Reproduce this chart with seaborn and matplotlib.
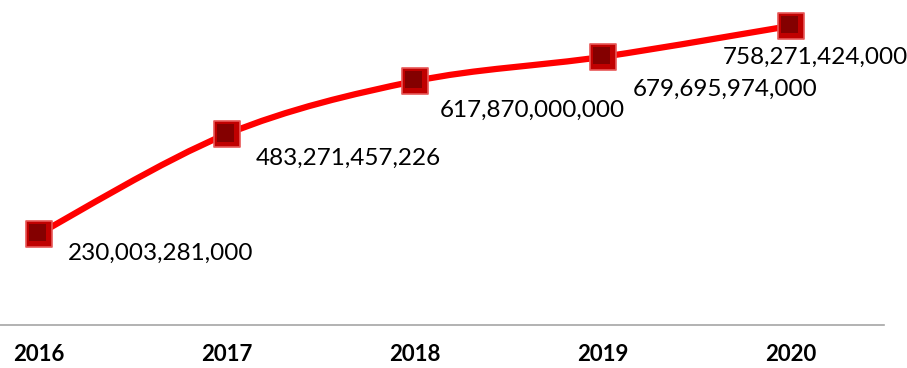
import numpy as np
import matplotlib
matplotlib.use('Agg')
import matplotlib.pyplot as plt
from matplotlib.path import Path
from matplotlib.patches import PathPatch
import seaborn as sns

# data
years = ['2016', '2017', '2018', '2019', '2020']
values = [230003281000, 483271457226, 617870000000, 679695974000, 758271424000]
labels = ['230,003,281,000', '483,271,457,226', '617,870,000,000',
          '679,695,974,000', '758,271,424,000']

# label offsets (points) from marker centre
label_offsets = [(21, -19), (21, -22), (18, -26), (22, -28), (-49, -27)]

sns.set_theme(style='white')
plt.rcParams['font.family'] = ['Lato', 'DejaVu Sans']

fig = plt.figure(figsize=(9.07, 3.68), dpi=100)
ax = fig.add_axes([0, 1 - 324.5 / 368, 884 / 907, 324.5 / 368])

x = np.arange(len(years))
y = np.array(values) / 1e9

# smooth line (bezier through the points, like excel smoothing)
pts = np.column_stack([x, y])
verts = [pts[0]]
codes = [Path.MOVETO]
for i in range(len(pts) - 1):
    p0 = pts[max(i - 1, 0)]
    p1 = pts[i]
    p2 = pts[i + 1]
    p3 = pts[min(i + 2, len(pts) - 1)]
    c1 = p1 + (p2 - p0) / 6
    c2 = p2 - (p3 - p1) / 6
    verts += [c1, c2, p2]
    codes += [Path.CURVE4] * 3
ax.add_patch(PathPatch(Path(verts, codes), fill=False, edgecolor='#ff0000',
                       lw=4.5, capstyle='round', zorder=2))

# markers
sns.scatterplot(x=x, y=y, marker='s', s=340, color='#c00000',
                edgecolor='#e85858', linewidth=1.2, ax=ax, zorder=3)
sns.scatterplot(x=x - 0.008, y=y + 3, marker='s', s=150, color='#7a0000',
                edgecolor='none', linewidth=0, ax=ax, zorder=4, alpha=0.85)

for xi, yi, lab, off in zip(x, y, labels, label_offsets):
    ax.annotate(lab, (xi, yi), xytext=off, textcoords='offset points',
                ha='left', va='baseline', fontsize=17.5, color='#000000')

ax.set_xlim(-0.205, 4.497)
ax.set_ylim(0, 824)
ax.set_xticks(x)
ax.set_xticklabels(years, fontsize=16, fontweight='bold', color='#000000')
ax.tick_params(axis='x', length=0, pad=14)
ax.set_yticks([])
for s in ['top', 'left', 'right']:
    ax.spines[s].set_visible(False)
ax.spines['bottom'].set_color('#a6a6a6')
ax.spines['bottom'].set_linewidth(1.2)
ax.set_facecolor('white')

fig.savefig('out.png', dpi=100, facecolor='white')
